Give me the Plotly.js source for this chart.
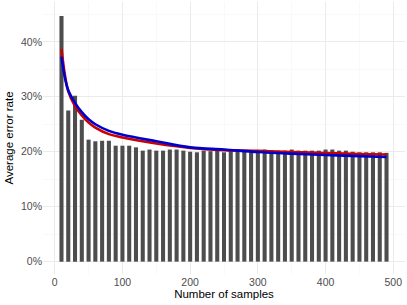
<!DOCTYPE html>
<html>
<head>
<meta charset="utf-8">
<script src="https://cdn.plot.ly/plotly-3.0.1.min.js"></script>
<style>html,body{margin:0;padding:0;background:#fff;}#chart{width:407px;height:305px;}</style>
</head>
<body>
<div id="chart"></div>
<script>
// Number of samples (bar positions)
const samples = [10,20,30,40,50,60,70,80,90,100,110,120,130,140,150,160,170,180,190,200,
  210,220,230,240,250,260,270,280,290,300,310,320,330,340,350,360,370,380,390,400,
  410,420,430,440,450,460,470,480,490];
// Average error rate per sample size (fraction)
const errorRate = [0.447,0.275,0.302,0.258,0.222,0.219,0.220,0.220,0.211,0.211,0.211,0.208,0.202,0.204,0.202,0.202,0.204,0.204,0.202,0.200,
  0.199,0.202,0.201,0.202,0.199,0.202,0.205,0.202,0.202,0.202,0.204,0.203,0.202,0.202,0.204,0.202,0.202,0.202,0.202,0.204,
  0.204,0.202,0.202,0.200,0.199,0.199,0.199,0.199,0.198];
// Fitted curves
const curveX = [10,15,20,30,40,50,60,80,100,150,200,250,300,350,400,450,490];
const redFit = [0.387,0.340,0.310,0.283,0.266,0.253,0.244,0.232,0.226,0.215,0.207,0.203,0.2015,0.1995,0.1975,0.196,0.195];
const blueFit = [0.373,0.335,0.312,0.289,0.272,0.259,0.250,0.238,0.231,0.219,0.208,0.204,0.1995,0.1965,0.194,0.192,0.1905];

const traces = [
  {type:'bar', x:samples, y:errorRate, width:6, marker:{color:'#4d4d4d'}, hoverinfo:'skip'},
  {type:'scatter', mode:'lines', x:curveX, y:redFit, line:{color:'#cd0000', width:2.6, shape:'spline'}},
  {type:'scatter', mode:'lines', x:curveX, y:blueFit, line:{color:'#0000cd', width:2.6, shape:'spline'}}
];
const layout = {
  width:407, height:305,
  margin:{l:43, r:2, t:2, b:31},
  paper_bgcolor:'#fff', plot_bgcolor:'#fff',
  showlegend:false,
  font:{family:'Liberation Sans, Arial, sans-serif', color:'#4d4d4d'},
  xaxis:{
    range:[-17.3,517.3], tickvals:[0,100,200,300,400,500], ticks:'', zeroline:false,
    showgrid:true, gridcolor:'#ebebeb', gridwidth:1,
    minor:{tickvals:[50,150,250,350,450], showgrid:true, gridcolor:'#f5f5f5', gridwidth:0.6},
    tickfont:{size:10.5, color:'#4d4d4d'},
    title:{text:'Number of samples', font:{size:11.5, color:'#000'}, standoff:3},
    showline:false
  },
  yaxis:{
    range:[-0.0225,0.4725], tickvals:[0,0.1,0.2,0.3,0.4], tickformat:'.0%', ticks:'', zeroline:false,
    showgrid:true, gridcolor:'#ebebeb', gridwidth:1,
    minor:{tickvals:[0.05,0.15,0.25,0.35,0.45], showgrid:true, gridcolor:'#f5f5f5', gridwidth:0.6},
    tickfont:{size:10.5, color:'#4d4d4d'},
    title:{text:'Average error rate', font:{size:11.5, color:'#000'}, standoff:4},
    showline:false
  }
};
Plotly.newPlot('chart', traces, layout, {displayModeBar:false, staticPlot:true});
</script>
</body>
</html>
